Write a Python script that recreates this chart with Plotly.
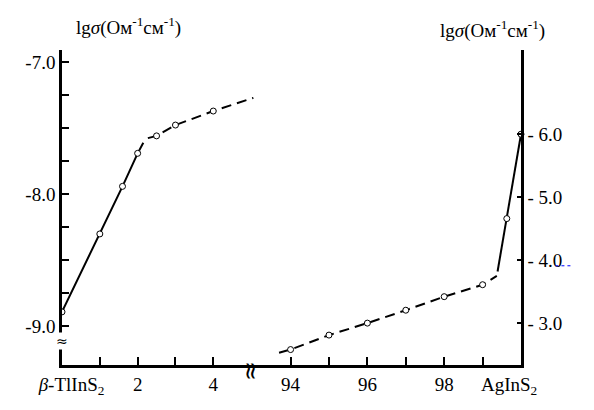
import plotly.graph_objects as go

# measured points, TlInS2-rich side (left scale)
left_x = [0, 1, 1.6, 2, 2.5, 3, 4]
left_y = [-8.89, -8.30, -7.94, -7.69, -7.558, -7.476, -7.37]

# guide lines drawn through them
left_solid_x = [0, 1, 1.6, 2, 2.15]
left_solid_y = [-8.89, -8.30, -7.94, -7.69, -7.61]
left_dash_x = [2.27, 2.5, 3, 4, 5.06]
left_dash_y = [-7.575, -7.558, -7.476, -7.37, -7.27]

# measured points, AgInS2-rich side (right scale)
right_x = [94, 95, 96, 97, 98, 99, 99.63, 100]
right_y = [2.58, 2.81, 3.0, 3.205, 3.42, 3.61, 4.66, 6.0]

right_dash_x = [93.7, 94, 95, 96, 97, 98, 99, 99.37]
right_dash_y = [2.53, 2.58, 2.81, 3.0, 3.205, 3.42, 3.61, 3.75]
right_solid_x = [99.39, 99.63, 100]
right_solid_y = [3.82, 4.66, 6.0]

left_ticks = [-9 + 0.25 * i for i in range(9)]
left_labels = ["-9.0" if t == -9 else "-8.0" if t == -8 else "-7.0" if t == -7 else "" for t in left_ticks]
right_ticks = [3, 4, 5, 6]
right_labels = ["- 3.0", "- 4.0", "- 5.0", "- 6.0"]

FONT = "Liberation Serif"
line = dict(color="black", width=2)
marker = dict(symbol="circle", size=6, color="white", line=dict(color="black", width=1))

fig = go.Figure()
fig.add_trace(go.Scatter(x=left_solid_x, y=left_solid_y, mode="lines", line=line,
                         xaxis="x", yaxis="y"))
fig.add_trace(go.Scatter(x=left_dash_x, y=left_dash_y, mode="lines", line=dict(line, dash="10px,6px"),
                         xaxis="x", yaxis="y"))
fig.add_trace(go.Scatter(x=left_x, y=left_y, mode="markers", marker=marker, xaxis="x", yaxis="y"))

fig.add_trace(go.Scatter(x=right_dash_x, y=right_dash_y, mode="lines", line=dict(line, dash="10px,6px"),
                         xaxis="x2", yaxis="y2"))
fig.add_trace(go.Scatter(x=right_solid_x, y=right_solid_y, mode="lines", line=line,
                         xaxis="x2", yaxis="y2"))
fig.add_trace(go.Scatter(x=right_x, y=right_y, mode="markers", marker=marker, xaxis="x2", yaxis="y2",
                         cliponaxis=False))

axis_common = dict(showline=True, linecolor="black", linewidth=2.5, ticks="inside",
                   tickcolor="black", tickwidth=2, showgrid=False, zeroline=False,
                   tickfont=dict(family=FONT, size=19, color="black"))

# the page body adds an 8 px offset, so the figure is 8 px smaller each way
fig.update_layout(
    width=586, height=402,
    margin=dict(l=54, r=73, t=42, b=42),
    paper_bgcolor="white", plot_bgcolor="white",
    showlegend=False,
    font=dict(family=FONT, size=19, color="black"),
    xaxis=dict(axis_common, domain=[0, 0.4227], range=[0, 5.13], anchor="y",
               tickvals=[0, 1, 2, 3, 4],
               ticktext=["&nbsp;&nbsp;&nbsp;&nbsp;<i>β</i>-TlInS<sub>2</sub>", "", "2", "", "4"],
               ticklen=8),
    xaxis2=dict(axis_common, domain=[0.4227, 1], range=[93.1, 100], anchor="y2",
                tickvals=[94, 95, 96, 97, 98, 99, 100],
                ticktext=["94", "", "96", "", "98", "", "AgInS<sub>2</sub>&nbsp;&nbsp;&nbsp;&nbsp;&nbsp;"],
                ticklen=8),
    yaxis=dict(axis_common, range=[-9.292, -6.908], anchor="x", side="left",
               tickvals=left_ticks, ticktext=left_labels, ticklen=7),
    yaxis2=dict(axis_common, range=[2.335, 7.337], anchor="x2", side="right", overlaying="y",
                tickvals=right_ticks, ticktext=right_labels, ticklen=4),
    annotations=[
        dict(text="lg<i>σ</i>(Ом<sup>-1</sup>см<sup>-1</sup>)", xref="paper", yref="paper",
             x=0.1438, y=1.0755, xanchor="center", yanchor="middle", showarrow=False,
             font=dict(family=FONT, size=19)),
        dict(text="lg<i>σ</i>(Ом<sup>-1</sup>см<sup>-1</sup>)", xref="paper", yref="paper",
             x=0.937, y=1.066, xanchor="center", yanchor="middle", showarrow=False,
             font=dict(family=FONT, size=19)),
        # axis breaks
        dict(text="≈", xref="paper", yref="paper", x=0.4096, y=0, xanchor="center",
             yanchor="middle", yshift=-6, showarrow=False, textangle=-90,
             font=dict(family="DejaVu Sans", size=24)),
        dict(text="≈", xref="paper", yref="paper", x=0, y=0.0755, xanchor="center",
             yanchor="middle", showarrow=False, bgcolor="white", borderpad=0,
             font=dict(family="DejaVu Sans", size=14)),
    ],
    shapes=[
        dict(type="line", xref="paper", yref="paper", x0=1.075, x1=1.112, y0=0.315, y1=0.315,
             line=dict(color="blue", width=1, dash="dot")),
    ],
)

fig.write_html("out.html")
